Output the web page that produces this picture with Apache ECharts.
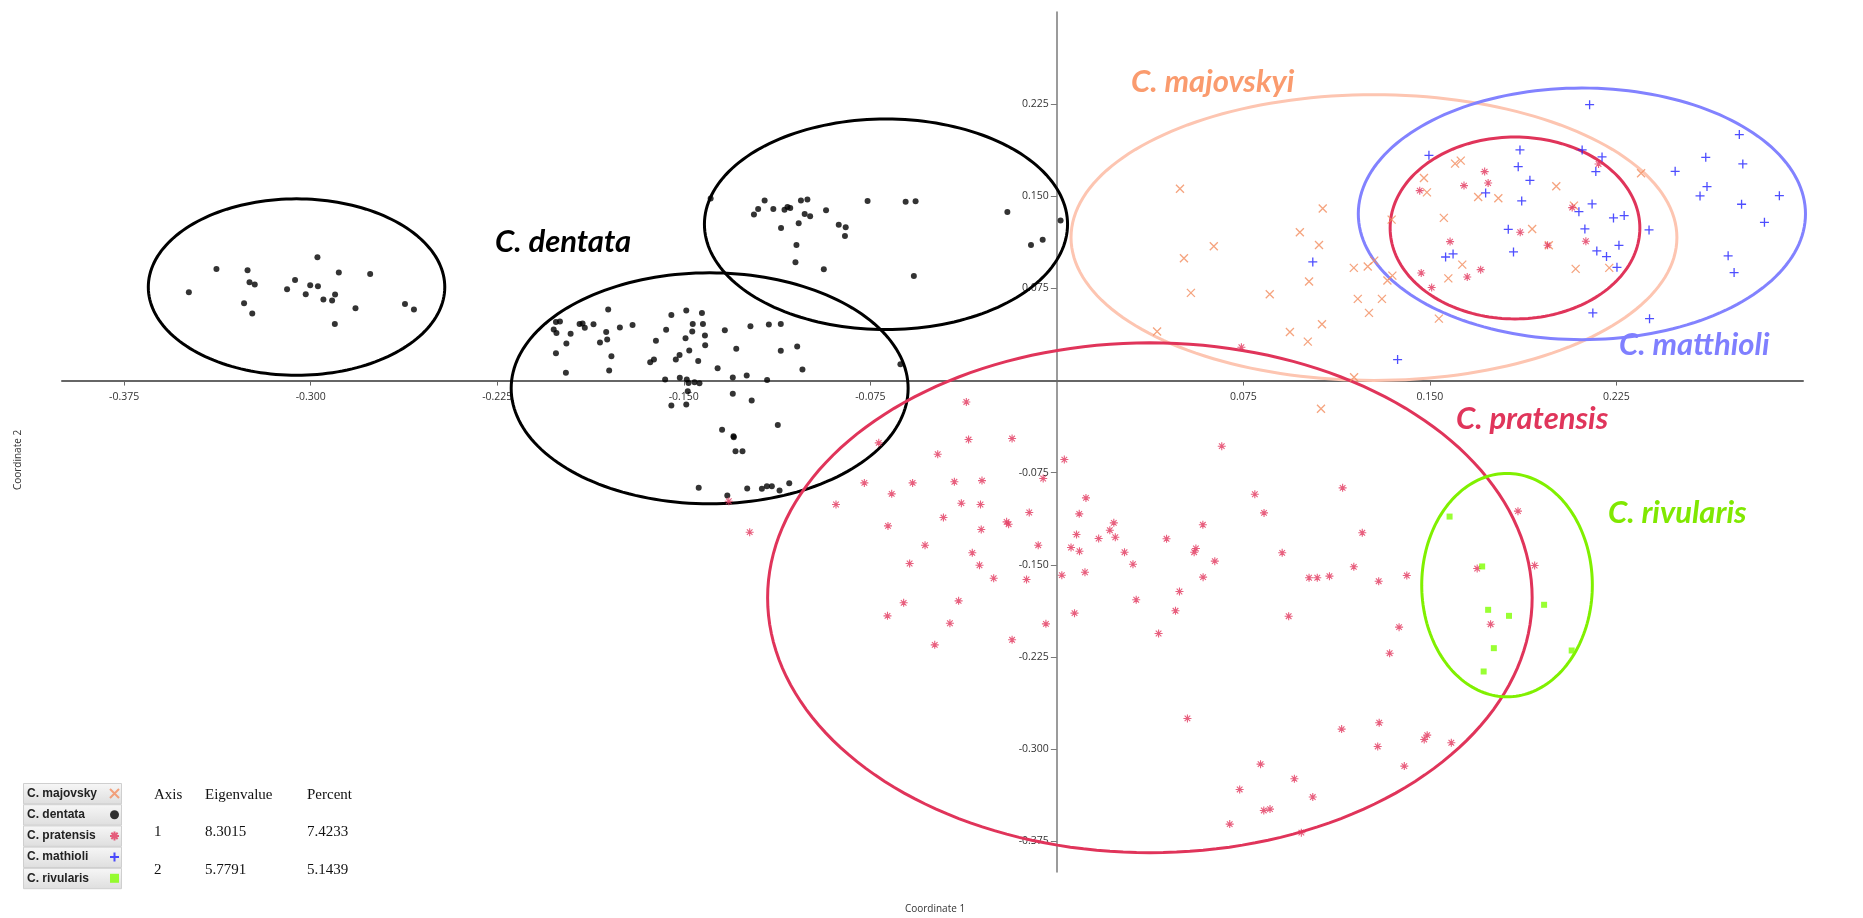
<!DOCTYPE html>
<html>
<head>
<meta charset="utf-8">
<title>Coordinate 1 / Coordinate 2</title>
<script src="https://cdn.jsdelivr.net/npm/echarts@6/dist/echarts.min.js"></script>
<style>
html, body { margin: 0; padding: 0; background: #fff; }
#chart { width: 1863px; height: 918px; }
</style>
</head>
<body>
<div id="chart"></div>
<script>
// legend names, in legend order
const species = ['C. majovsky', 'C. dentata', 'C. pratensis', 'C. mathioli', 'C. rivularis'];

// scores: [coordinate 1, coordinate 2]
const majovsky = [
  [0.0495,0.1562],[0.1069,0.1400],[0.0977,0.1207],[0.0631,0.1093],[0.0511,0.0995],[0.1054,0.1104],
  [0.1014,0.0806],[0.0539,0.0714],[0.0856,0.0702],[0.0403,0.0399],[0.0937,0.0396],[0.1009,0.0317],
  [0.1066,0.0458],[0.1194,0.0917],[0.1250,0.0928],[0.1276,0.0976],[0.1210,0.0665],[0.1255,0.0551],
  [0.1307,0.0665],[0.1329,0.0814],[0.1349,0.0854],[0.1346,0.1310],[0.1476,0.1649],[0.1488,0.1532],
  [0.1556,0.1324],[0.1574,0.0832],[0.1536,0.0504],[0.1601,0.1766],[0.1195,0.0027],[0.1062,-0.0230],
  [0.1624,0.1790],[0.1694,0.1494],[0.1775,0.1484],[0.2008,0.1581],[0.2079,0.1424],[0.1911,0.1234],
  [0.1978,0.1101],[0.1630,0.0944],[0.2086,0.0909],[0.2221,0.0917],[0.2349,0.1687]
];
const dentata = [
  // left group
  [-0.3490,0.0718],[-0.3379,0.0909],[-0.3254,0.0898],[-0.3246,0.0800],[-0.3225,0.0781],[-0.3268,0.0629],
  [-0.3235,0.0545],[-0.3095,0.0743],[-0.3063,0.0819],[-0.3020,0.0702],[-0.3002,0.0776],[-0.2973,0.1003],
  [-0.2971,0.0768],[-0.2949,0.0659],[-0.2914,0.0651],[-0.2902,0.0700],[-0.2903,0.0461],[-0.2887,0.0879],
  [-0.2820,0.0589],[-0.2761,0.0868],[-0.2621,0.0624],[-0.2585,0.0578],
  // upper group
  [-0.1392,0.1481],[-0.1218,0.1351],[-0.1201,0.1397],[-0.1175,0.1465],[-0.1140,0.1397],[-0.1109,0.1242],
  [-0.1095,0.1391],[-0.1083,0.1413],[-0.1072,0.1405],[-0.1047,0.1104],[-0.1051,0.0963],[-0.1038,0.1280],
  [-0.1029,0.1465],[-0.1014,0.1356],[-0.1003,0.1473],[-0.0992,0.1337],[-0.0937,0.0906],[-0.0928,0.1386],
  [-0.0877,0.1269],[-0.0849,0.1247],[-0.0852,0.1177],[-0.0761,0.1462],[-0.0608,0.1456],[-0.0568,0.1459],
  [-0.0575,0.0852],[-0.0199,0.1372],[-0.0104,0.1104],[-0.0057,0.1147],[0.0015,0.1302],
  // lower group
  [-0.1804,0.0578],[-0.1550,0.0534],[-0.1490,0.0570],[-0.1427,0.0551],[-0.1464,0.0461],[-0.1423,0.0461],
  [-0.2014,0.0477],[-0.1998,0.0480],[-0.2023,0.0415],[-0.2012,0.0388],[-0.1919,0.0461],[-0.1907,0.0464],
  [-0.1898,0.0429],[-0.1863,0.0458],[-0.1955,0.0382],[-0.1812,0.0396],[-0.1757,0.0431],[-0.1706,0.0453],
  [-0.1571,0.0413],[-0.1466,0.0399],[-0.1415,0.0366],[-0.1335,0.0409],[-0.1232,0.0442],[-0.1158,0.0456],
  [-0.1110,0.0461],[-0.1972,0.0301],[-0.1837,0.0309],[-0.1808,0.0334],[-0.1612,0.0325],[-0.1493,0.0344],
  [-0.1414,0.0287],[-0.1478,0.0244],[-0.1289,0.0258],[-0.1110,0.0242],[-0.1044,0.0277],[-0.2014,0.0222],
  [-0.1791,0.0198],[-0.1517,0.0209],[-0.1532,0.0171],[-0.1635,0.0149],[-0.1620,0.0171],[-0.1442,0.0160],
  [-0.1364,0.0100],[-0.1023,0.0090],[-0.0629,0.0133],[-0.1974,0.0063],[-0.1800,0.0081],[-0.1575,0.0008],
  [-0.1516,0.0022],[-0.1488,0.0008],[-0.1481,-0.0019],[-0.1457,-0.0014],[-0.1437,-0.0022],[-0.1303,0.0024],
  [-0.1247,0.0041],[-0.1165,0.0005],[-0.1484,-0.0087],[-0.1303,-0.0108],[-0.1227,-0.0163],[-0.1550,-0.0203],
  [-0.1490,-0.0195],[-0.1346,-0.0401],[-0.1300,-0.0453],[-0.1299,-0.0461],[-0.1292,-0.0575],[-0.1264,-0.0575],
  [-0.1122,-0.0361],[-0.1440,-0.0873],[-0.1325,-0.0936],[-0.1245,-0.0879],[-0.1186,-0.0881],[-0.1166,-0.0860],
  [-0.1146,-0.0860],[-0.1115,-0.0895],[-0.1076,-0.0836]
];
const pratensis = [
  [-0.0364,-0.0174],[-0.0355,-0.0480],[-0.0180,-0.0472],[-0.0479,-0.0600],[0.0030,-0.0643],[-0.0716,-0.0507],
  [-0.0774,-0.0833],[-0.0580,-0.0833],[-0.0412,-0.0824],[-0.0301,-0.0814],[-0.0055,-0.0797],[-0.0664,-0.0922],
  [-0.0888,-0.1009],[-0.0384,-0.0998],[-0.0307,-0.1009],[0.0117,-0.0955],[0.0090,-0.1085],[-0.0111,-0.1074],
  [-0.0456,-0.1115],[-0.0679,-0.1183],[-0.0304,-0.1212],[-0.0202,-0.1150],[-0.0194,-0.1169],[-0.1235,-0.1234],
  [0.0079,-0.1253],[0.0213,-0.1218],[0.0229,-0.1158],[0.0235,-0.1275],[0.0168,-0.1286],[-0.0530,-0.1340],
  [-0.0340,-0.1402],[-0.0075,-0.1340],[0.0057,-0.1359],[0.0091,-0.1389],[0.0272,-0.1397],[-0.0592,-0.1489],
  [-0.0311,-0.1503],[0.0306,-0.1495],[0.0113,-0.1560],[-0.0254,-0.1609],[-0.0122,-0.1619],[0.0020,-0.1584],
  [-0.0616,-0.1809],[-0.0395,-0.1793],[0.0319,-0.1784],[-0.0681,-0.1915],[0.0071,-0.1893],[-0.0430,-0.1975],
  [-0.0044,-0.1980],[-0.0180,-0.2110],[-0.0491,-0.2151],[0.0409,-0.2059],[-0.1319,-0.0982],
  [0.0663,-0.0534],[0.0796,-0.0925],[0.0833,-0.1077],[0.1149,-0.0873],[0.0587,-0.1174],[0.0441,-0.1288],
  [0.0559,-0.1367],[0.0552,-0.1397],[0.0635,-0.1470],[0.0906,-0.1402],[0.1228,-0.1239],[0.1194,-0.1516],
  [0.1014,-0.1605],[0.1047,-0.1605],[0.1096,-0.1592],[0.1294,-0.1633],[0.1407,-0.1587],[0.0588,-0.1600],
  [0.0493,-0.1717],[0.0477,-0.1874],[0.0932,-0.1918],[0.1376,-0.2007],[0.1338,-0.2219],[0.0525,-0.2750],
  [0.1854,-0.1063],[0.1921,-0.1505],[0.1690,-0.1530],[0.1744,-0.1983],
  [0.1145,-0.2837],[0.1296,-0.2785],[0.1290,-0.2978],[0.1477,-0.2921],[0.1489,-0.2886],[0.1586,-0.2948],
  [0.0819,-0.3122],[0.1397,-0.3138],[0.0955,-0.3241],[0.0735,-0.3328],[0.1029,-0.3390],[0.0832,-0.3499],
  [0.0857,-0.3488],[0.0695,-0.3610],[0.0983,-0.3680],
  [0.1459,0.1546],[0.1581,0.1131],[0.1465,0.0876],[0.1507,0.0757],[0.0742,0.0271],
  [0.1720,0.1701],[0.1734,0.1608],[0.1637,0.1587],[0.1863,0.1207],[0.1704,0.0903],[0.1650,0.0843],
  [0.1973,0.1101],[0.2127,0.1134],[0.2072,0.1408],[0.2178,0.1763]
];
const mathioli = [
  [0.1496,0.1833],[0.1029,0.0966],[0.1370,0.0171],[0.1563,0.1006],[0.1593,0.1031],
  [0.2142,0.2246],[0.2744,0.2002],[0.2609,0.1817],[0.2758,0.1763],[0.1862,0.1877],[0.1855,0.1741],
  [0.1902,0.1630],[0.2112,0.1877],[0.2192,0.1820],[0.2167,0.1701],[0.2486,0.1703],[0.2614,0.1579],
  [0.2586,0.1503],[0.2905,0.1505],[0.2753,0.1435],[0.1724,0.1527],[0.1869,0.1462],[0.2152,0.1438],
  [0.2099,0.1375],[0.2238,0.1324],[0.2281,0.1343],[0.2123,0.1234],[0.2381,0.1226],[0.2845,0.1288],
  [0.1815,0.1231],[0.2260,0.1101],[0.2171,0.1055],[0.2210,0.1009],[0.2252,0.0922],[0.1836,0.1047],
  [0.2699,0.1015],[0.2723,0.0879],[0.2155,0.0551],[0.2383,0.0504]
];
const rivularis = [
  [0.1579,-0.1107],[0.1710,-0.1513],[0.1734,-0.1866],[0.1818,-0.1915],
  [0.1959,-0.1825],[0.1757,-0.2178],[0.1716,-0.2368],[0.2070,-0.2197]
];

// group ellipses: [centre 1, centre 2, half-width, half-height]
const ellipses = [
  [-0.3057, 0.0761, 0.0596, 0.0718],
  [-0.0687, 0.1272, 0.0730, 0.0857],
  [-0.1396, -0.0063, 0.0798, 0.0940],
  [0.1275, 0.1164, 0.1218, 0.1163],
  [0.2111, 0.1357, 0.0899, 0.1024],
  [0.1842, 0.1242, 0.0502, 0.0740],
  [0.0374, -0.1768, 0.1537, 0.2075],
  [0.1810, -0.1665, 0.0343, 0.0909]
];
const ellipseColors = ['#000', '#000', '#000', '#fdc5b1', '#8282ff', '#e0345a', '#e0345a', '#80f000'];

// ticks on both axes (zero is not labelled)
const axisTicks = [-0.375, -0.3, -0.225, -0.15, -0.075, 0.075, 0.15, 0.225];
const axisMin = -0.4;
const axisMax = 0.3;

// eigenvalue table
const tableHead = ['Axis', 'Eigenvalue', 'Percent'];
const tableRows = [['1', '8.3015', '7.4233'], ['2', '5.7791', '5.1439']];

// group names written on the plot: [text, colour, left, middle]
const groupLabels = [
  ['C. dentata', '#000000', 495, 242],
  ['C. majovskyi', '#fa9b6e', 1131, 82],
  ['C. matthioli', '#7f7fff', 1619, 345],
  ['C. pratensis', '#e0355b', 1456, 419],
  ['C. rivularis', '#80e800', 1608, 513]
];

const W = 1863, H = 918;
const gridBox = { left: 62, right: 60, top: 12, bottom: 46 };
// the axes cross at zero: shift each axis from the grid edge to the zero line
const plotW = W - gridBox.left - gridBox.right;
const plotH = H - gridBox.top - gridBox.bottom;
const xAxisShift = -plotH * (0 - axisMin) / (axisMax - axisMin);
const yAxisShift = -plotW * (0 - axisMin) / (axisMax - axisMin);

const chart = echarts.init(document.getElementById('chart'));

function valueAxis(pos, shift, lineColor, lineWidth, tickLen, labelMargin) {
  return {
    type: 'value',
    position: pos,
    offset: shift,
    min: axisMin,
    max: axisMax,
    splitLine: { show: false },
    axisLine: { onZero: false, lineStyle: { color: lineColor, width: lineWidth } },
    axisTick: { show: true, customValues: axisTicks, length: tickLen, lineStyle: { color: lineColor, width: 1 } },
    axisLabel: {
      customValues: axisTicks,
      formatter: v => v.toFixed(3),
      margin: labelMargin,
      fontFamily: 'Open Sans',
      fontSize: 10.5,
      color: '#333'
    }
  };
}

const graphics = [];
// legend row buttons
for (let i = 0; i < species.length; i++) {
  graphics.push({
    type: 'rect', left: 23, top: 783 + i * 21.2, z: 0,
    shape: { width: 98, height: 20.4 },
    style: {
      fill: new echarts.graphic.LinearGradient(0, 0, 0, 1, [
        { offset: 0, color: '#f7f7f7' }, { offset: 1, color: '#dedede' }
      ]),
      stroke: '#cfcfcf', lineWidth: 1
    }
  });
}
// eigenvalue table
const colX = [154, 205, 307];
[tableHead].concat(tableRows).forEach((row, r) => {
  row.forEach((cell, c) => {
    graphics.push({
      type: 'text', x: colX[c], y: 795 + r * 37.3,
      style: { text: cell, fill: '#111', font: '15px "Liberation Serif"', textVerticalAlign: 'middle' }
    });
  });
});
// group labels
groupLabels.forEach(g => {
  graphics.push({
    type: 'text', x: g[2], y: g[3], z: 10,
    style: { text: g[0], fill: g[1], font: 'italic bold 31px Lato', textVerticalAlign: 'middle' }
  });
});
// axis names
graphics.push({
  type: 'text', x: 935, y: 909,
  style: { text: 'Coordinate 1', fill: '#333', font: '10px "Open Sans"', textAlign: 'center', textVerticalAlign: 'middle' }
});
graphics.push({
  type: 'text', x: 18, y: 460, rotation: Math.PI / 2,
  style: { text: 'Coordinate 2', fill: '#333', font: '10px "Open Sans"', textAlign: 'center', textVerticalAlign: 'middle' }
});

const option = {
  animation: false,
  backgroundColor: '#fff',
  grid: Object.assign({ containLabel: false }, gridBox),
  xAxis: valueAxis('bottom', xAxisShift, '#666', 2, 5, 11),
  yAxis: valueAxis('left', yAxisShift, '#7a7a7a', 1.5, 6, 8),
  legend: {
    orient: 'vertical',
    left: 27,
    top: 783,
    padding: 0,
    align: 'right',
    itemWidth: 9,
    itemHeight: 9,
    itemGap: 0.2,
    selectedMode: false,
    data: species,
    formatter: '{n|{name}}',
    textStyle: {
      rich: {
        n: { width: 78, height: 21, lineHeight: 21, align: 'left', fontFamily: 'Liberation Sans', fontWeight: 'bold', fontSize: 12, color: '#222' }
      }
    }
  },
  graphic: graphics,
  series: [
    {
      type: 'custom',
      silent: true,
      z: 1,
      data: ellipses,
      encode: { x: 0, y: 1 },
      renderItem: function (params, api) {
        const cx = api.value(0), cy = api.value(1), rx = api.value(2), ry = api.value(3);
        const pts = [];
        for (let i = 0; i < 180; i++) {
          const t = i / 180 * Math.PI * 2;
          pts.push(api.coord([cx + rx * Math.cos(t), cy + ry * Math.sin(t)]));
        }
        return {
          type: 'polygon',
          shape: { points: pts },
          style: { fill: 'none', stroke: ellipseColors[params.dataIndex], lineWidth: 3 }
        };
      }
    },
    {
      name: 'C. majovsky', type: 'scatter', z: 3, data: majovsky,
      symbol: 'path://M0,0L10,10M10,0L0,10', symbolSize: 8,
      itemStyle: { color: '#f28c5e', borderColor: '#f28c5e', borderWidth: 1.3 }
    },
    {
      name: 'C. dentata', type: 'scatter', z: 3, data: dentata,
      symbol: 'circle', symbolSize: 6,
      itemStyle: { color: '#000' }
    },
    {
      name: 'C. pratensis', type: 'scatter', z: 3, data: pratensis,
      symbol: 'path://M5,0L5,10M0,5L10,5M1.5,1.5L8.5,8.5M8.5,1.5L1.5,8.5', symbolSize: 8,
      itemStyle: { color: '#e2375e', borderColor: '#e2375e', borderWidth: 1.1 }
    },
    {
      name: 'C. mathioli', type: 'scatter', z: 3, data: mathioli,
      symbol: 'path://M5,0L5,10M0,5L10,5', symbolSize: 9,
      itemStyle: { color: '#2222ff', borderColor: '#2222ff', borderWidth: 1.3 }
    },
    {
      name: 'C. rivularis', type: 'scatter', z: 3, data: rivularis,
      symbol: 'rect', symbolSize: 6,
      itemStyle: { color: '#80ff00' }
    }
  ]
};

chart.setOption(option);
window.addEventListener('resize', function () {
  chart.resize();
});
</script>
</body>
</html>
